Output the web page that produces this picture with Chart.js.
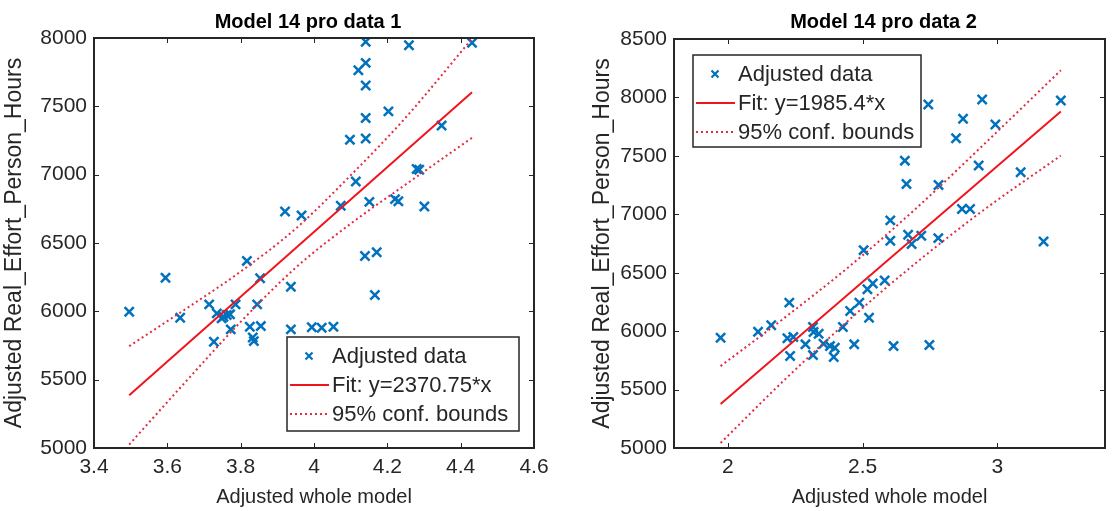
<!DOCTYPE html>
<html>
<head>
<meta charset="utf-8">
<script src="https://cdn.jsdelivr.net/npm/chart.js@4.4.1/dist/chart.umd.min.js"></script>
<style>
  html, body { margin: 0; padding: 0; background: #fff; }
  #wrap { position: relative; width: 1114px; height: 511px; overflow: hidden; }
  canvas { position: absolute; top: 0; }
  #c1 { left: 0; }
  #c2 { left: 557px; }
</style>
</head>
<body>
<div id="wrap">
  <canvas id="c1" width="557" height="511"></canvas>
  <canvas id="c2" width="557" height="511"></canvas>
</div>
<script>
// ---- plot 1: Model 14 pro data 1 ----
const dataX1 = [3.496, 3.595, 3.635, 3.714, 3.727, 3.735, 3.748, 3.753, 3.762, 3.771,
  3.773, 3.786, 3.817, 3.825, 3.833, 3.836, 3.845, 3.853, 3.855, 3.921,
  3.937, 3.937, 3.966, 3.994, 4.021, 4.053, 4.073, 4.098, 4.114, 4.121,
  4.139, 4.141, 4.141, 4.141, 4.141, 4.141, 4.151, 4.166, 4.171, 4.203,
  4.221, 4.230, 4.259, 4.280, 4.287, 4.301, 4.348, 4.431];
const dataY1 = [5997, 6246, 5953, 6051, 5777, 5985, 5949, 5960, 5973, 5978,
  5868, 6051, 6369, 5887, 5809, 5782, 6051, 6242, 5892, 6730,
  6180, 5868, 6701, 5883, 5880, 5887, 6772, 7256, 6950, 7764,
  6405, 7972, 7818, 7652, 7415, 7265, 6801, 6119, 6432, 7463,
  6821, 6806, 7947, 7041, 7036, 6767, 7359, 7965];
const fitX1 = [3.496, 4.431];
const fitY1 = [5386, 7603];
const boundX1 = [3.496, 3.65, 3.8, 3.95, 4.1, 4.25, 4.431];
const upper1 = [5745, 6017, 6291, 6605, 6995, 7418, 7995];
const lower1 = [5025, 5485, 5923, 6319, 6641, 6928, 7270];
const xTicks1 = [3.4, 3.6, 3.8, 4, 4.2, 4.4, 4.6];
const yTicks1 = [5000, 5500, 6000, 6500, 7000, 7500, 8000];

// ---- plot 2: Model 14 pro data 2 ----
const dataX2 = [1.973, 2.112, 2.161, 2.221, 2.228, 2.231, 2.243, 2.288, 2.316, 2.316,
  2.318, 2.337, 2.355, 2.379, 2.393, 2.397, 2.427, 2.454, 2.469, 2.488,
  2.504, 2.518, 2.524, 2.538, 2.582, 2.603, 2.603, 2.615, 2.657, 2.663,
  2.669, 2.682, 2.718, 2.744, 2.748, 2.781, 2.782, 2.847, 2.869, 2.873,
  2.899, 2.931, 2.944, 2.993, 3.087, 3.172, 3.236];
const dataY2 = [5944, 5995, 6050, 5939, 6244, 5787, 5950, 5887, 6035, 5795,
  5993, 5978, 5892, 5872, 5778, 5858, 6035, 6173, 5887, 6244,
  6693, 6359, 6115, 6407, 6433, 6948, 6773, 5872, 7459, 7259,
  6825, 6745, 6816, 7940, 5881, 6796, 7251, 7651, 7045, 7817,
  7045, 7417, 7983, 7768, 7359, 6767, 7974];
const fitX2 = [1.973, 3.236];
const fitY2 = [5377, 7880];
const boundX2 = [1.973, 2.2, 2.45, 2.7, 2.95, 3.236];
const upper2 = [5701, 6096, 6552, 7053, 7597, 8232];
const lower2 = [5043, 5560, 6096, 6587, 7037, 7502];
const xTicks2 = [2, 2.5, 3];
const yTicks2 = [5000, 5500, 6000, 6500, 7000, 7500, 8000, 8500];

const FONT = "'Liberation Sans', Arial, sans-serif";
const INK = "#262626";
const BLUE = "#0072BD";
const RED = "#f0141e";
const DOT_RED = "#e22a40";

const toPoints = (xs, ys) => xs.map((x, i) => ({ x: x, y: ys[i] }));

function drawCross(ctx, x, y, r) {
  ctx.beginPath();
  ctx.moveTo(x - r, y - r); ctx.lineTo(x + r, y + r);
  ctx.moveTo(x - r, y + r); ctx.lineTo(x + r, y - r);
  ctx.stroke();
}

// box, inward ticks, title, y label and legend in matlab style
const matlabLook = {
  id: "matlabLook",
  afterDatasetsDraw(chart, args, opts) {
    const { ctx, chartArea: a, scales } = chart;
    ctx.save();
    ctx.strokeStyle = INK;
    ctx.lineWidth = 1;
    const len = 5;
    scales.x.ticks.forEach((t) => {
      const px = Math.round(scales.x.getPixelForValue(t.value)) + 0.5;
      ctx.beginPath();
      ctx.moveTo(px, a.bottom); ctx.lineTo(px, a.bottom - len);
      ctx.moveTo(px, a.top); ctx.lineTo(px, a.top + len);
      ctx.stroke();
    });
    scales.y.ticks.forEach((t) => {
      const py = Math.round(scales.y.getPixelForValue(t.value)) + 0.5;
      ctx.beginPath();
      ctx.moveTo(a.left, py); ctx.lineTo(a.left + len, py);
      ctx.moveTo(a.right, py); ctx.lineTo(a.right - len, py);
      ctx.stroke();
    });
    ctx.lineWidth = 2;
    ctx.strokeRect(a.left, a.top, a.right - a.left, a.bottom - a.top);

    // legend box
    const L = opts.legend;
    const bx = L.anchor === "br" ? a.right - L.dx - L.w : a.left + L.dx;
    const by = L.anchor === "br" ? a.bottom - L.dy - L.h : a.top + L.dy;
    ctx.fillStyle = "#fff";
    ctx.fillRect(bx, by, L.w, L.h);
    ctx.lineWidth = 1.5;
    ctx.strokeStyle = INK;
    ctx.strokeRect(bx, by, L.w, L.h);
    ctx.font = "22px " + FONT;
    ctx.textBaseline = "middle";
    ctx.textAlign = "left";
    const items = chart.data.datasets.filter((d) => d.label);
    items.forEach((d, i) => {
      const cy = by + 19 + i * 29;
      if (d.showLine) {
        ctx.strokeStyle = d.borderColor;
        ctx.lineWidth = d.borderWidth;
        ctx.setLineDash(d.borderDash || []);
        ctx.beginPath();
        ctx.moveTo(bx + 3, cy); ctx.lineTo(bx + 42, cy);
        ctx.stroke();
        ctx.setLineDash([]);
      } else {
        ctx.strokeStyle = d.pointBorderColor;
        ctx.lineWidth = 2.2;
        drawCross(ctx, bx + 22, cy, 3.5);
      }
      ctx.fillStyle = INK;
      ctx.fillText(d.label, bx + 45, cy + 1);
    });
    ctx.restore();
  },
  afterDraw(chart, args, opts) {
    const { ctx, chartArea: a } = chart;
    ctx.save();
    ctx.fillStyle = "#000";
    ctx.font = "bold 20px " + FONT;
    ctx.textAlign = "center";
    ctx.textBaseline = "alphabetic";
    ctx.fillText(opts.title, (a.left + a.right) / 2 - 6, 28);
    ctx.fillStyle = INK;
    ctx.font = "23px " + FONT;
    ctx.translate(opts.yTitleX, (a.top + a.bottom) / 2);
    ctx.rotate(-Math.PI / 2);
    ctx.textBaseline = "middle";
    ctx.fillText(opts.yTitle, 0, 0);
    ctx.restore();
  }
};

function makeChart(id, spec) {
  return new Chart(document.getElementById(id), {
    type: "scatter",
    data: {
      datasets: [
        {
          label: "Adjusted data",
          data: toPoints(spec.dataX, spec.dataY),
          pointStyle: "crossRot",
          pointRadius: 6.5,
          pointBorderWidth: 2.5,
          pointBorderColor: BLUE,
          pointBackgroundColor: BLUE,
          showLine: false,
          order: 4
        },
        {
          label: spec.fitLabel,
          data: toPoints(spec.fitX, spec.fitY),
          showLine: true,
          borderColor: RED,
          borderWidth: 2,
          pointRadius: 0,
          order: 1
        },
        {
          label: "95% conf. bounds",
          data: toPoints(spec.boundX, spec.upper),
          showLine: true,
          borderColor: DOT_RED,
          borderWidth: 2,
          borderDash: [2, 3],
          cubicInterpolationMode: "monotone",
          pointRadius: 0,
          order: 2
        },
        {
          label: "",
          data: toPoints(spec.boundX, spec.lower),
          showLine: true,
          borderColor: DOT_RED,
          borderWidth: 2,
          borderDash: [2, 3],
          cubicInterpolationMode: "monotone",
          pointRadius: 0,
          order: 3
        }
      ]
    },
    options: {
      responsive: false,
      animation: false,
      layout: { padding: spec.padding },
      plugins: {
        legend: { display: false },
        tooltip: { enabled: false },
        matlabLook: {
          title: spec.title,
          yTitle: "Adjusted Real_Effort_Person_Hours",
          yTitleX: spec.yTitleX,
          legend: spec.legend
        }
      },
      scales: {
        x: {
          type: "linear",
          min: spec.xRange[0],
          max: spec.xRange[1],
          afterBuildTicks: (s) => { s.ticks = spec.xTicks.map((v) => ({ value: v })); },
          afterFit: (s) => { s.height = 63; },
          grid: { display: false, drawTicks: false },
          border: { display: false },
          ticks: {
            color: INK,
            font: { family: FONT, size: 21 },
            padding: 7,
            maxRotation: 0,
            callback: (v) => String(v)
          },
          title: {
            display: true,
            text: "Adjusted whole model",
            color: INK,
            font: { family: FONT, size: 20 },
            padding: { top: 0, bottom: 2 }
          }
        },
        y: {
          type: "linear",
          min: spec.yRange[0],
          max: spec.yRange[1],
          afterBuildTicks: (s) => { s.ticks = spec.yTicks.map((v) => ({ value: v })); },
          afterFit: (s) => { s.width = spec.yWidth; },
          grid: { display: false, drawTicks: false },
          border: { display: false },
          ticks: {
            color: INK,
            font: { family: FONT, size: 21 },
            padding: 7,
            callback: (v) => String(v)
          }
        }
      }
    },
    plugins: [matlabLook]
  });
}

makeChart("c1", {
  title: "Model 14 pro data 1",
  dataX: dataX1, dataY: dataY1,
  fitX: fitX1, fitY: fitY1, fitLabel: "Fit: y=2370.75*x",
  boundX: boundX1, upper: upper1, lower: lower1,
  xTicks: xTicks1, yTicks: yTicks1,
  xRange: [3.4, 4.6], yRange: [5000, 8000],
  padding: { top: 38, right: 23, left: 0, bottom: 0 },
  yWidth: 94,
  yTitleX: 15,
  legend: { anchor: "br", dx: 15, dy: 17, w: 232, h: 94 }
});

makeChart("c2", {
  title: "Model 14 pro data 2",
  dataX: dataX2, dataY: dataY2,
  fitX: fitX2, fitY: fitY2, fitLabel: "Fit: y=1985.4*x",
  boundX: boundX2, upper: upper2, lower: lower2,
  xTicks: xTicks2, yTicks: yTicks2,
  xRange: [1.8, 3.4], yRange: [5000, 8500],
  padding: { top: 39, right: 1, left: 0, bottom: 0 },
  yWidth: 117,
  yTitleX: 46,
  legend: { anchor: "tl", dx: 19, dy: 16, w: 228, h: 92 }
});
</script>
</body>
</html>
